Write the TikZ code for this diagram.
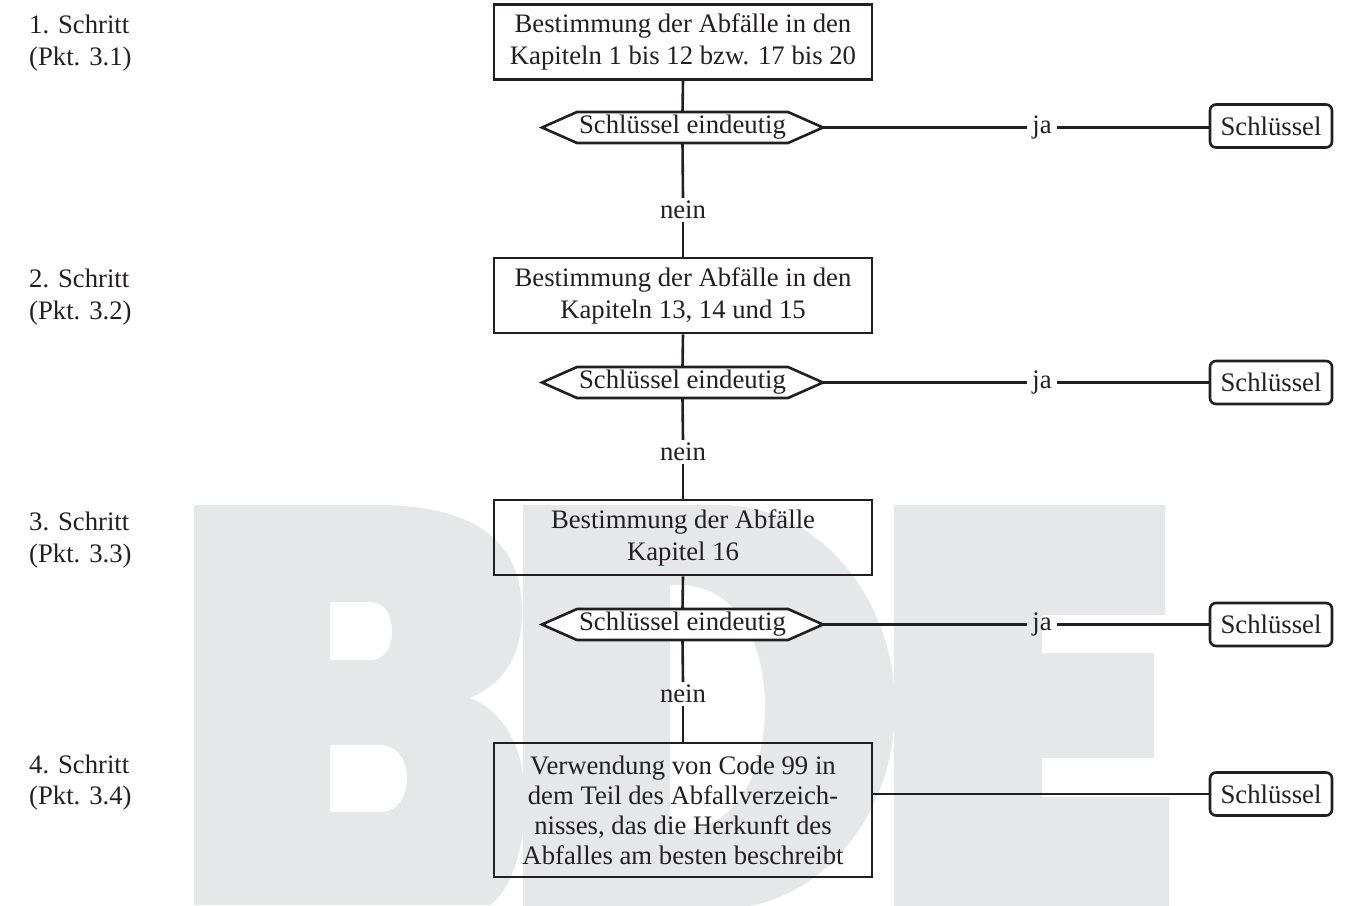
\documentclass[tikz,border=0pt]{standalone}
\usepackage{fontspec}
\setmainfont{Liberation Serif}
\usetikzlibrary{calc}
\definecolor{wm}{HTML}{E6E7E9}
\definecolor{ink}{HTML}{231F20}
\begin{document}
\begin{tikzpicture}[x=1pt,y=-1pt,
  every node/.style={font=\fontsize{26.7}{32}\selectfont, text=ink},
  stepbox/.style={draw=ink, line width=2.6pt, minimum width=378, minimum height=75, align=center, inner sep=0pt},
  keybox/.style={draw=ink, line width=2.6pt, rounded corners=6pt, minimum width=122, minimum height=43, inner sep=0pt},
  hexshape/.style={draw=ink, line width=2.6pt, fill=white, line join=miter},
  hexlabel/.style={minimum width=211, minimum height=31, inner sep=0pt},
  conn/.style={draw=ink, line width=2.6pt},
  yes/.style={inner xsep=5pt, inner ysep=0pt},
  no/.style={inner xsep=0pt, inner ysep=3pt},
  lab/.style={anchor=base west, inner sep=0pt}]
\useasboundingbox (0,0) rectangle (1354,905);

% watermark
\fill[wm, even odd rule]
 (194,505) -- (377,505) .. controls (480,505) and (522,545) .. (522,612)
   .. controls (522,660) and (500,685) .. (470,698)
   .. controls (505,712) and (525,750) .. (525,800)
   .. controls (525,860) and (505,895) .. (490,905) -- (194,905) -- cycle
 (330,602) -- (370,602) .. controls (385,602) and (392,615) .. (392,631)
   .. controls (392,648) and (385,660) .. (370,660) -- (330,660) -- cycle
 (330,745) -- (380,745) .. controls (398,745) and (407,760) .. (407,778)
   .. controls (407,797) and (398,812) .. (380,812) -- (330,812) -- cycle;
\fill[wm, even odd rule]
 (523,505) -- (720,505) .. controls (817,505) and (895,596) .. (895,707)
   .. controls (895,818) and (817,909) .. (720,909) -- (523,909) -- cycle
 (670,585) -- (680,585) .. controls (735,585) and (765,640) .. (765,707)
   .. controls (765,775) and (735,830) .. (680,830) -- (670,830) -- cycle;
\fill[wm] (894,505) -- (1165,505) -- (1165,615) -- (1042,615) -- (1042,653)
 -- (1154,653) -- (1154,758) -- (1042,758) -- (1042,797) -- (1169,797)
 -- (1169,909) -- (894,909) -- cycle;

% hexagons (decision shapes)
\foreach \yy in {127.5,382.5,624.5} {
  \path[hexshape] (577,\yy-15.5) -- (788,\yy-15.5) -- (823,\yy) -- (788,\yy+15.5)
    -- (577,\yy+15.5) -- (542,\yy) -- cycle;
}

% step labels
\node[lab] (l1a) at (29,33) {1. Schritt};
\node[lab] (l1b) at (29,65) {(Pkt. 3.1)};
\node[lab] (l2a) at (29,287) {2. Schritt};
\node[lab] (l2b) at (29,319) {(Pkt. 3.2)};
\node[lab] (l3a) at (29,530) {3. Schritt};
\node[lab] (l3b) at (29,562) {(Pkt. 3.3)};
\node[lab] (l4a) at (29,773) {4. Schritt};
\node[lab] (l4b) at (29,804) {(Pkt. 3.4)};

% boxes
\node[stepbox] (b1) at (683,42) {Bestimmung der Abfälle in den\\Kapiteln 1 bis 12 bzw. 17 bis 20};
\node[stepbox] (b2) at (683,295.5) {Bestimmung der Abfälle in den\\Kapiteln 13, 14 und 15};
\node[stepbox] (b3) at (683,537.5) {Bestimmung der Abfälle\\Kapitel 16};
\node[stepbox, minimum height=134, font=\fontsize{26.7}{30}\selectfont] (b4) at (683,810)
  {Verwendung von Code 99 in\\dem Teil des Abfallverzeich-\\nisses, das die Herkunft des\\Abfalles am besten beschreibt};

% decisions
\node[hexlabel] (d1) at (682.5,127.5) {Schlüssel eindeutig};
\node[hexlabel] (d2) at (682.5,382.5) {Schlüssel eindeutig};
\node[hexlabel] (d3) at (682.5,624.5) {Schlüssel eindeutig};
\coordinate (d1r) at (823,127.5);
\coordinate (d2r) at (823,382.5);
\coordinate (d3r) at (823,624.5);

% no labels
\node[no] (n1) at (683,210) {nein};
\node[no] (n2) at (683,452) {nein};
\node[no] (n3) at (683,694) {nein};

% yes labels
\node[yes] (j1) at (1042,127.5) {ja};
\node[yes] (j2) at (1042,382.5) {ja};
\node[yes] (j3) at (1042,624.5) {ja};

% key boxes
\node[keybox] (s1) at (1271,126) {Schlüssel};
\node[keybox] (s2) at (1271,382.5) {Schlüssel};
\node[keybox] (s3) at (1271,624.5) {Schlüssel};
\node[keybox] (s4) at (1271,794) {Schlüssel};

% connectors
\draw[conn] (b1.south) -- (d1.north);
\draw[conn] (d1.south) -- (n1.north);
\draw[conn] (n1.south) -- (b2.north);
\draw[conn] (b2.south) -- (d2.north);
\draw[conn] (d2.south) -- (n2.north);
\draw[conn] (n2.south) -- (b3.north);
\draw[conn] (b3.south) -- (d3.north);
\draw[conn] (d3.south) -- (n3.north);
\draw[conn] (n3.south) -- (b4.north);
\draw[conn] (d1r) -- (j1.west);
\draw[conn] (j1.east) -- (s1.west |- j1.east);
\draw[conn] (d2r) -- (j2.west);
\draw[conn] (j2.east) -- (s2.west);
\draw[conn] (d3r) -- (j3.west);
\draw[conn] (j3.east) -- (s3.west);
\draw[conn] (b4.east |- s4.west) -- (s4.west);
\end{tikzpicture}
\end{document}
